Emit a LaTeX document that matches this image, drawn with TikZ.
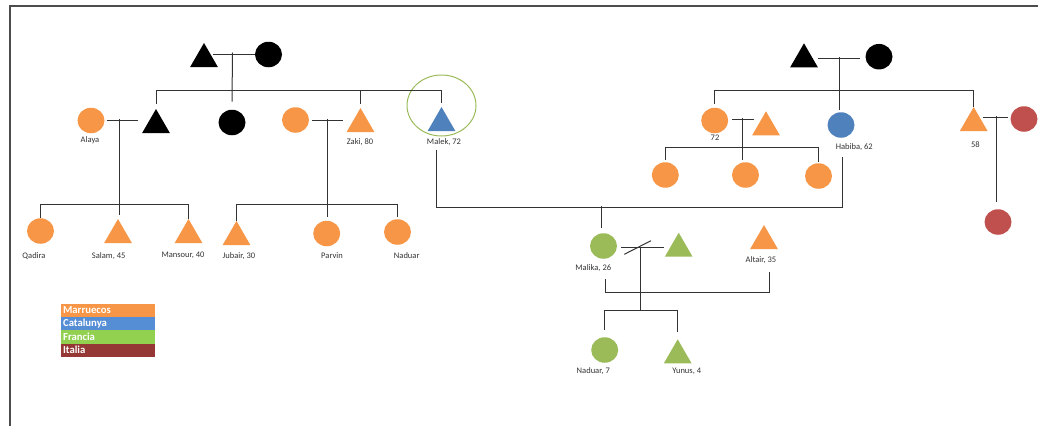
\documentclass[tikz,border=0pt]{standalone}
\usepackage{fontspec}
\setmainfont{Carlito}
\usetikzlibrary{shapes.geometric}
\definecolor{orng}{HTML}{F79646}
\definecolor{blu}{HTML}{4F81BD}
\definecolor{grn}{HTML}{9BBB59}
\definecolor{rd}{HTML}{C0504D}
\definecolor{lgorng}{HTML}{F79646}
\definecolor{lgblu}{HTML}{558ED5}
\definecolor{lggrn}{HTML}{92D050}
\definecolor{lgrd}{HTML}{953735}
\definecolor{lncol}{HTML}{333333}
\begin{document}
\begin{tikzpicture}[x=1pt,y=-1pt,
  circ/.style={ellipse, minimum width=27pt, minimum height=25.5pt, inner sep=0pt, fill=#1},
  tri/.style={regular polygon, regular polygon sides=3, minimum size=32pt, inner sep=0pt, fill=#1},
  lbl/.style={font=\fontsize{8.5}{10}\selectfont, text=black!80, inner sep=1pt},
  ln/.style={line width=1pt, draw=lncol},
  legend/.style={anchor=north west, minimum width=94.3pt, minimum height=13.35pt, text width=90pt, inner xsep=2.2pt, inner ysep=0pt, align=left, fill=#1, text=white, font=\bfseries\fontsize{10.7}{12}\selectfont}
]
\useasboundingbox (0,0) rectangle (1038,426);
% frame
\draw[line width=1.2pt, draw=black!70] (10,426) -- (10,6) -- (1038,6);

% ---------- left family ----------
\node[tri=black] (T1) at (204,59) {};
\node[circ=black] (C1) at (268.5,54.5) {};
\node[tri=black] (T2) at (156,125) {};
\node[circ=black] (B1) at (232,122.5) {};
\node[circ=orng] (Al) at (91,120.5) {};
\node[circ=orng] (Zw) at (295.5,120) {};
\node[tri=orng] (Zk) at (360.5,124) {};
\node[tri=blu] (Mk) at (441.5,123) {};
\node[ellipse, draw=grn, line width=1pt, minimum width=69pt, minimum height=61pt, inner sep=0pt] (hl) at (441.5,105.5) {};

\node[circ=orng] (Qa) at (40.5,231) {};
\node[tri=orng] (Sa) at (118,235) {};
\node[tri=orng] (Ma) at (188.5,235) {};
\node[tri=orng] (Ju) at (236.5,237) {};
\node[circ=orng] (Pa) at (326.7,233.5) {};
\node[circ=orng] (Na) at (397.5,232) {};

\node[lbl] (lAl) at (90,140) {Alaya};
\node[lbl] (lZk) at (360,142) {Zaki, 80};
\node[lbl] (lMk) at (444,142) {Malek, 72};
\node[lbl] (lQa) at (34,255.7) {Qadira};
\node[lbl] (lSa) at (108.7,255.7) {Salam, 45};
\node[lbl] (lMa) at (183,255.7) {Mansour, 40};
\node[lbl] (lJu) at (239,255.7) {Jubair, 30};
\node[lbl] (lPa) at (332,255.7) {Parvin};
\node[lbl] (lNa) at (406.7,255.7) {Naduar};

\coordinate (u1) at (232.5,54);
\coordinate (s1) at (232,90.7);
\draw[ln] (T1.east|-u1) -- (C1.west|-u1);
\draw[ln] ([yshift=1.5pt]u1) -- ([yshift=8pt]B1.north);
\draw[ln] ([yshift=5pt]T2.north) -- (T2.north|-s1) -- (Mk.north|-s1) -- ([yshift=4pt]Mk.north);
\draw[ln] (Zk.north|-s1) -- ([yshift=4pt]Zk.north);

\coordinate (u2) at (119,120);
\coordinate (s2) at (119,204.3);
\draw[ln, shorten <=2pt, shorten >=9pt] (Al.east|-u2) -- (T2.west|-u2);
\draw[ln, shorten >=4pt] ([yshift=1.5pt]u2) -- (u2|-Sa.north);
\draw[ln] (Qa.north) -- (Qa.north|-s2) -- (Ma.north|-s2) -- (Ma.north);

\coordinate (u3) at (327,120);
\coordinate (s3) at (327,204.3);
\draw[ln, shorten <=3pt, shorten >=8pt] (Zw.east) -- (Zk.west|-Zw.east);
\draw[ln, shorten >=4pt] ([yshift=1.5pt]u3) -- (u3|-Pa.north);
\draw[ln] (Ju.north) -- (Ju.north|-s3) -- (Na.north|-s3) -- ([yshift=2pt]Na.north);

% ---------- middle family ----------
\node[circ=grn] (Mi) at (603.5,246) {};
\node[tri=grn] (Gh) at (678.7,248.7) {};
\node[tri=orng] (Alt) at (764,241) {};
\node[circ=grn] (N7) at (604.7,350) {};
\node[tri=grn] (Yu) at (677.7,355.3) {};

\node[lbl] (lMi) at (593.3,268.3) {Malika, 26};
\node[lbl] (lAlt) at (761,260) {Altair, 35};
\node[lbl] (lN7) at (593.3,371) {Naduar, 7};
\node[lbl] (lYu) at (686.7,371) {Yunus, 4};

% ---------- right family ----------
\node[tri=black] (T3) at (804,59.3) {};
\node[circ=black] (C3) at (879,56.7) {};
\node[circ=orng] (F72) at (714.7,120.5) {};
\node[tri=orng] (H72) at (766,127.3) {};
\node[circ=blu] (Hb) at (841,125) {};
\node[tri=orng] (T58) at (973.7,123) {};
\node[circ=rd] (RW) at (1024,119) {};
\node[circ=orng] (K1) at (665.3,175) {};
\node[circ=orng] (K2) at (745.5,175) {};
\node[circ=orng] (K3) at (818.5,176) {};
\node[circ=rd] (RK) at (998,222) {};

\node[lbl] (l72) at (715,138) {72};
\node[lbl] (lHb) at (854.3,147) {Habiba, 62};
\node[lbl] (l58) at (975.3,144.7) {58};

% Malek -- Habiba union and their daughter
\coordinate (j1) at (601,207.5);
\draw[ln] ([xshift=-8pt,yshift=-3pt]lMk.south) |- (j1) -| ([xshift=-11.6pt,yshift=-5pt]lHb.south);
\draw[ln, shorten >=5pt] ([yshift=1.5pt]j1) -- (j1|-Mi.north);

% Malika's (broken) union
\coordinate (u4) at (640.7,247.3);
\coordinate (s5) at (640.7,310.7);
\draw[ln, shorten <=4pt, shorten >=5.5pt] (Mi.east|-u4) -- (Gh.west|-u4);
\draw[ln] ([xshift=-16.4pt,yshift=-7pt]u4) -- ([xshift=10.3pt,yshift=6.6pt]u4);
\draw[ln] (u4) -- (s5);
\draw[ln] ([yshift=6.6pt]N7.north) -- (N7.north|-s5) -- (Yu.north|-s5) -- ([yshift=7pt]Yu.north);

% Malika -- Altair
\draw[ln] ([xshift=12.4pt,yshift=-6pt]lMi.south) -- ++(0,13) -| ([xshift=8pt,yshift=-7pt]lAlt.south);

% right family connectors
\coordinate (u5) at (839.3,58.3);
\coordinate (s6) at (839.3,90);
\draw[ln, shorten <=5pt, shorten >=5pt] (T3.east|-u5) -- (C3.west|-u5);
\draw[ln, shorten >=2pt] ([yshift=1.5pt]u5) -- (u5|-Hb.north);
\draw[ln] ([yshift=4pt]F72.north) -- (F72.north|-s6) -- (T58.north|-s6) -- (T58.north);

\coordinate (u6) at (742.7,119);
\coordinate (s7) at (742.7,147.7);
\draw[ln, shorten <=4pt, shorten >=2.5pt] (F72.east|-u6) -- (H72.west|-u6);
\draw[ln, shorten >=2pt] ([yshift=1.5pt]u6) -- (u6|-K2.north);
\draw[ln] ([yshift=2pt]K1.north) -- (K1.north|-s7) -- (K3.north|-s7) -- ([yshift=1.5pt]K3.north);

\coordinate (u7) at (996,117.7);
\draw[ln, shorten >=2pt] (T58.east|-u7) -- (RW.west|-u7);
\draw[ln, shorten >=7.5pt] ([yshift=1.5pt]u7) -- (u7|-RK.north);

% ---------- legend ----------
\node[legend=lgorng] (g1) at (60.7,303.3) {Marruecos};
\node[legend=lgblu] (g2) at (60.7,316.65) {Catalunya};
\node[legend=lggrn] (g3) at (60.7,330) {Francia};
\node[legend=lgrd] (g4) at (60.7,343.35) {Italia};
\end{tikzpicture}
\end{document}
